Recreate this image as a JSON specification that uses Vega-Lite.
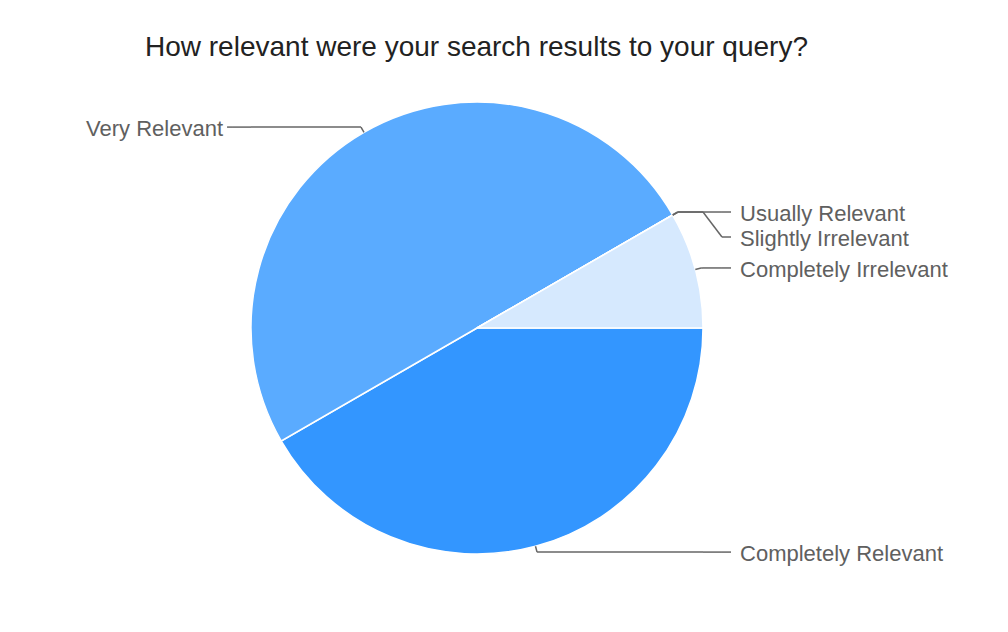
{
  "$schema": "https://vega.github.io/schema/vega-lite/v6.json",
  "width": 954,
  "height": 496,
  "autosize": "none",
  "padding": {"left": 0, "top": 80, "right": 54, "bottom": 56},
  "background": "white",
  "config": {"view": {"stroke": null}},
  "title": {
    "text": "How relevant were your search results to your query?",
    "anchor": "start",
    "frame": "group",
    "dx": 145,
    "offset": 18,
    "font": "Liberation Sans",
    "fontSize": 28,
    "fontWeight": "normal",
    "color": "#222222"
  },
  "data": {
    "values": [
      {"answer": "Completely Relevant", "count": 5, "order": 1},
      {"answer": "Very Relevant", "count": 6, "order": 2},
      {"answer": "Usually Relevant", "count": 0, "order": 3},
      {"answer": "Slightly Irrelevant", "count": 0, "order": 4},
      {"answer": "Completely Irrelevant", "count": 1, "order": 5}
    ]
  },
  "transform": [
    {"joinaggregate": [{"op": "sum", "field": "count", "as": "total"}]},
    {"window": [{"op": "sum", "field": "count", "as": "cum"}], "sort": [{"field": "order"}], "frame": [null, 0]},
    {"calculate": "(datum.cum - datum.count/2)/datum.total", "as": "mid"},
    {"calculate": "PI/2 + 2*PI*datum.mid", "as": "ang"},
    {"window": [{"op": "row_number", "as": "rank"}], "groupby": ["mid"], "sort": [{"field": "order"}]},
    {"calculate": "sin(datum.ang) >= 0 ? 1 : -1", "as": "side"},
    {"calculate": "sin(datum.ang)", "as": "x0"},
    {"calculate": "cos(datum.ang)", "as": "y0"},
    {"calculate": "1.0265*sin(datum.ang)", "as": "x1"},
    {"calculate": "1.0265*cos(datum.ang)", "as": "y1"},
    {"calculate": "datum.side*1.0", "as": "xb"},
    {"calculate": "datum.side*1.084", "as": "xc"},
    {"calculate": "datum.side > 0 ? 1.124 : -1.106", "as": "xe"},
    {"calculate": "datum.y1 - (datum.rank-1)*0.1106", "as": "ye"}
  ],
  "layer": [
    {
      "mark": {"type": "arc", "outerRadius": 226, "stroke": "white", "strokeWidth": 1.5},
      "encoding": {
        "theta": {"field": "count", "type": "quantitative", "stack": true, "scale": {"range": [1.5707963, 7.8539816]}},
        "order": {"field": "order", "type": "quantitative"},
        "color": {
          "field": "answer",
          "type": "nominal",
          "scale": {
            "domain": ["Completely Relevant", "Very Relevant", "Usually Relevant", "Slightly Irrelevant", "Completely Irrelevant"],
            "range": ["#3396ff", "#5aabff", "#8cc4ff", "#b4d8ff", "#d6e9fe"]
          },
          "legend": null
        }
      }
    },
    {
      "mark": {"type": "rule", "color": "#666666", "strokeWidth": 1.5},
      "encoding": {
        "x": {"field": "x0", "type": "quantitative", "scale": {"domain": [-2.11062, 2.11062], "nice": false, "zero": false}, "axis": null},
        "y": {"field": "y0", "type": "quantitative", "scale": {"domain": [-1.09735, 1.09735], "nice": false, "zero": false}, "axis": null},
        "x2": {"field": "x1"},
        "y2": {"field": "y1"}
      }
    },
    {
      "mark": {"type": "rule", "color": "#666666", "strokeWidth": 1.5},
      "encoding": {
        "x": {"field": "x1", "type": "quantitative", "axis": null},
        "y": {"field": "y1", "type": "quantitative", "axis": null},
        "x2": {"field": "xb"},
        "y2": {"field": "y1"}
      }
    },
    {
      "mark": {"type": "rule", "color": "#666666", "strokeWidth": 1.5},
      "encoding": {
        "x": {"field": "xb", "type": "quantitative", "axis": null},
        "y": {"field": "y1", "type": "quantitative", "axis": null},
        "x2": {"field": "xc"},
        "y2": {"field": "ye"}
      }
    },
    {
      "mark": {"type": "rule", "color": "#666666", "strokeWidth": 1.5},
      "encoding": {
        "x": {"field": "xc", "type": "quantitative", "axis": null},
        "y": {"field": "ye", "type": "quantitative", "axis": null},
        "x2": {"field": "xe"},
        "y2": {"field": "ye"}
      }
    },
    {
      "mark": {
        "type": "text",
        "font": "Liberation Sans",
        "fontSize": 22,
        "fill": "#606060",
        "baseline": "middle",
        "dy": 2,
        "align": {"expr": "datum.side > 0 ? 'left' : 'right'"},
        "dx": {"expr": "datum.side > 0 ? 9 : -4"}
      },
      "encoding": {
        "x": {"field": "xe", "type": "quantitative", "axis": null},
        "y": {"field": "ye", "type": "quantitative", "axis": null},
        "text": {"field": "answer"}
      }
    }
  ]
}
